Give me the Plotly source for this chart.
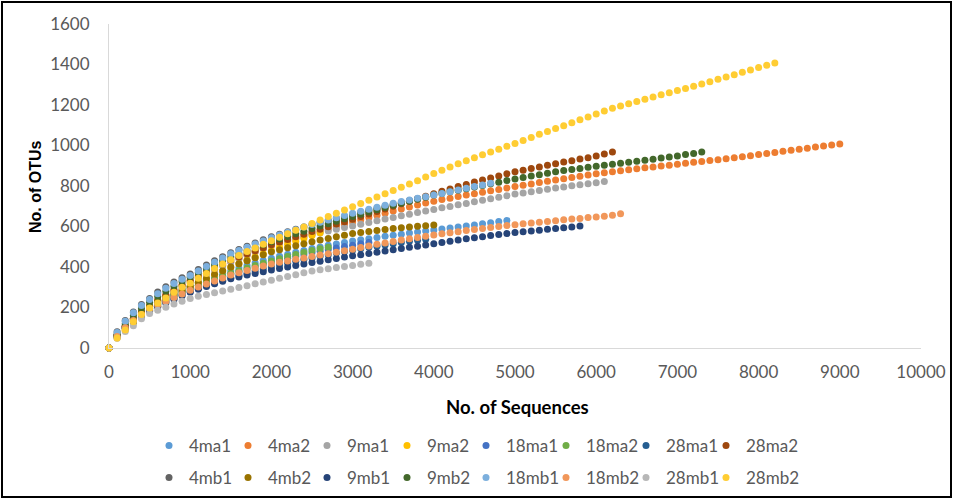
import plotly.graph_objects as go

# sampling depth step of the rarefaction curves (No. of Sequences)
seq_step = 100

series_names = ["4ma1", "4ma2", "9ma1", "9ma2", "18ma1", "18ma2", "28ma1", "28ma2",
                "4mb1", "4mb2", "9mb1", "9mb2", "18mb1", "18mb2", "28mb1", "28mb2"]
series_colors = ["#5B9BD5", "#ED7D31", "#A5A5A5", "#FFC000", "#4472C4", "#70AD47", "#255E91", "#9E480E",
                 "#636363", "#997300", "#264478", "#43682B", "#7CAFDD", "#F1975A", "#B7B7B7", "#FFCD33"]

otus_4ma1 = [0, 62, 108, 145, 177, 205, 228, 250, 270, 288, 305, 322, 338, 353, 368, 382, 395, 408, 420, 432,
             443, 453, 463, 473, 482, 491, 499, 507, 514, 521, 528, 534, 540, 546, 552, 557, 562, 568, 573, 578,
             583, 588, 593, 598, 603, 608, 614, 619, 625, 630]
otus_4ma2 = [0, 60, 107, 145, 178, 208, 236, 262, 286, 309, 330, 350, 369, 388, 407, 425, 442, 458, 474, 490,
             505, 517, 529, 541, 553, 565, 577, 588, 600, 611, 622, 633, 644, 655, 666, 676, 686, 696, 706, 716,
             725, 733, 740, 748, 755, 762, 769, 776, 783, 790, 797, 804, 810, 817, 823, 830, 836, 842, 848, 854,
             860, 865, 870, 875, 880, 885, 890, 894, 899, 903, 908, 912, 917, 921, 926, 930, 935, 940, 945, 950,
             955, 960, 966, 971, 977, 982, 987, 993, 998, 1003, 1008]
otus_9ma1 = [0, 58, 102, 140, 172, 200, 228, 254, 279, 302, 325, 346, 366, 386, 406, 425, 442, 459, 476, 493,
             510, 520, 530, 540, 550, 560, 569, 578, 586, 595, 603, 611, 620, 628, 637, 645, 653, 661, 669, 676,
             684, 692, 699, 707, 714, 722, 730, 737, 745, 752, 760, 766, 772, 778, 784, 790, 795, 801, 806, 811,
             816, 822]
otus_9ma2 = [0, 50, 88, 122, 152, 180, 205, 230, 255, 278, 300, 320, 340, 360, 380, 398, 416, 433, 450, 466,
             482, 497, 512, 527, 541, 555, 569]
otus_18ma1 = [0, 58, 102, 138, 168, 195, 218, 240, 259, 277, 294, 310, 325, 339, 353, 366, 378, 390, 401, 412,
              423, 433, 443, 452, 461, 470, 478, 486, 494, 501, 508, 515, 521]
otus_18ma2 = [0, 57, 100, 136, 166, 193, 216, 238, 258, 276, 293, 310, 326, 341, 355, 369, 382, 395, 407, 419,
              430, 441, 452, 462, 472, 481, 490, 498]
otus_28ma1 = [0, 55, 97, 131, 160, 185, 207, 227, 246, 263, 279, 294, 308, 321, 334, 346, 358, 369, 380, 390,
              400, 410, 419, 428, 437, 445, 453, 461, 469, 476, 483, 490, 497, 503, 509, 515, 521, 527, 532, 537]
otus_28ma2 = [0, 60, 106, 144, 177, 206, 234, 260, 287, 311, 335, 356, 376, 396, 416, 435, 450, 465, 480, 495,
              510, 523, 536, 549, 562, 575, 587, 599, 612, 624, 636, 649, 662, 674, 687, 700, 712, 725, 737, 750,
              762, 774, 785, 797, 808, 820, 830, 840, 850, 860, 870, 878, 886, 894, 902, 910, 918, 925, 933, 940,
              948, 958, 968]
otus_4mb1 = [0, 80, 136, 178, 215, 245, 276, 302, 326, 347, 366, 388, 410, 431, 451, 470, 487, 503, 519, 535,
             550, 562, 574, 586, 598, 610, 620, 630, 640, 650, 660, 670, 680, 690, 700, 710, 719, 728, 737]
otus_4mb2 = [0, 62, 108, 146, 178, 207, 228, 249, 269, 287, 305, 325, 345, 364, 382, 400, 416, 431, 446, 461,
             475, 485, 495, 505, 515, 525, 533, 541, 549, 557, 565, 570, 575, 580, 585, 590, 594, 597, 601, 604,
             608]
otus_9mb1 = [0, 55, 96, 130, 158, 183, 203, 222, 240, 258, 275, 290, 304, 317, 330, 342, 351, 360, 368, 377,
             385, 393, 400, 408, 415, 422, 429, 436, 442, 449, 455, 461, 467, 473, 479, 485, 491, 497, 503, 509,
             515, 521, 527, 533, 539, 545, 550, 555, 560, 565, 570, 574, 578, 582, 586, 590, 594, 598, 602]
otus_9mb2 = [0, 68, 120, 160, 195, 226, 254, 280, 305, 328, 350, 371, 392, 412, 431, 450, 465, 480, 495, 510,
             525, 538, 551, 564, 577, 590, 602, 614, 626, 638, 650, 661, 672, 683, 694, 705, 715, 725, 735, 745,
             755, 763, 771, 779, 787, 795, 803, 811, 819, 827, 835, 842, 849, 856, 863, 870, 876, 881, 887, 892,
             898, 902, 907, 912, 917, 922, 927, 932, 938, 943, 948, 955, 961, 968]
otus_18mb1 = [0, 76, 132, 174, 210, 240, 268, 295, 318, 339, 358, 380, 402, 424, 445, 465, 481, 497, 513, 529,
              545, 558, 571, 584, 597, 610, 621, 632, 643, 654, 665, 675, 685, 695, 705, 715, 723, 731, 739, 747,
              755, 763, 772, 780, 789, 797, 805, 813]
otus_18mb2 = [0, 57, 100, 136, 166, 193, 212, 230, 249, 267, 285, 301, 316, 331, 346, 360, 372, 383, 394, 405,
              415, 423, 430, 438, 445, 452, 459, 466, 473, 480, 488, 496, 504, 512, 519, 526, 533, 540, 546, 552,
              558, 564, 569, 574, 580, 585, 590, 595, 600, 605, 609, 613, 617, 621, 625, 629, 633, 637, 640, 644,
              647, 651, 656, 663]
otus_28mb1 = [0, 48, 82, 110, 145, 170, 187, 201, 217, 231, 245, 255, 264, 273, 282, 290, 299, 308, 317, 326,
              335, 344, 353, 362, 371, 380, 386, 391, 397, 402, 408, 413, 418]
otus_28mb2 = [0, 49, 89, 130, 165, 197, 222, 247, 275, 300, 320, 345, 368, 392, 415, 436, 457, 476, 494, 512,
              530, 547, 564, 581, 598, 615, 632, 649, 666, 682, 698, 714, 730, 746, 762, 778, 794, 810, 826, 844,
              862, 878, 894, 910, 925, 940, 954, 968, 982, 996, 1010, 1025, 1040, 1055, 1069, 1084, 1098, 1112,
              1127, 1141, 1155, 1170, 1184, 1195, 1206, 1217, 1228, 1239, 1250, 1261, 1272, 1282, 1293, 1304,
              1315, 1327, 1338, 1350, 1362, 1373, 1385, 1396, 1408]

series_values = [otus_4ma1, otus_4ma2, otus_9ma1, otus_9ma2, otus_18ma1, otus_18ma2, otus_28ma1, otus_28ma2,
                 otus_4mb1, otus_4mb2, otus_9mb1, otus_9mb2, otus_18mb1, otus_18mb2, otus_28mb1, otus_28mb2]

x_ticks = [0, 1000, 2000, 3000, 4000, 5000, 6000, 7000, 8000, 9000, 10000]
y_ticks = [0, 200, 400, 600, 800, 1000, 1200, 1400, 1600]

TICK_FONT = dict(family="Lato, Open Sans, sans-serif", size=17, color="#595959")

# plot area in pixels: x 109..921, y 24..348
L, R, T, B = 109, 33, 24, 152
PW, PH = 954 - L - R, 500 - T - B

def px(xp):
    return (xp - L) / PW

def py(yp):
    return (500 - B - yp) / PH

# legend grid: 8 columns x 2 rows (text start pixels of the reference legend)
legend_text_x = [187, 266, 345, 425, 504, 584, 664, 744]
legend_row_y = [446, 478]

fig = go.Figure()
layout_legends = {}
for i, (name, color, vals) in enumerate(zip(series_names, series_colors, series_values)):
    depths = [k * seq_step for k in range(len(vals))]
    key = "legend" if i == 0 else "legend%d" % (i + 1)
    fig.add_trace(go.Scatter(
        x=depths, y=vals, name=name, mode="markers",
        marker=dict(color=color, size=7, line=dict(width=0)),
        cliponaxis=False,
        legend=key,
    ))
    col, row = i % 8, i // 8
    layout_legends[key] = dict(
        orientation="h", xanchor="left", yanchor="middle", xref="paper", yref="paper",
        x=px(legend_text_x[col] + 2 - 40), y=py(legend_row_y[row]),
        font=dict(family="Lato, Open Sans, sans-serif", size=17, color="#595959"),
        bgcolor="rgba(0,0,0,0)", borderwidth=0, itemsizing="trace",
    )

fig.update_layout(
    width=954, height=500,
    margin=dict(l=L, r=R, t=T, b=B, autoexpand=False),
    paper_bgcolor="white", plot_bgcolor="white",
    showlegend=True,
    xaxis=dict(range=[0, 10000], tickvals=x_ticks, ticktext=[str(v) for v in x_ticks],
               showgrid=False, zeroline=False, showline=True, linecolor="#D9D9D9", linewidth=1,
               ticks="", tickfont=TICK_FONT, ticklabelstandoff=9, automargin=False),
    yaxis=dict(range=[0, 1600], tickvals=y_ticks, ticktext=[str(v) for v in y_ticks],
               showgrid=False, zeroline=False, showline=True, linecolor="#D9D9D9", linewidth=1,
               ticks="", tickfont=TICK_FONT, ticklabelstandoff=15, automargin=False),
    annotations=[
        dict(text="<b>No. of Sequences</b>", x=px(517), y=py(407), xref="paper", yref="paper",
             showarrow=False, xanchor="center", yanchor="middle",
             font=dict(family="Lato, sans-serif", size=18.5, color="#000000")),
        dict(text="<b>No. of OTUs</b>", x=px(35), y=py(187), xref="paper", yref="paper",
             showarrow=False, xanchor="center", yanchor="middle", textangle=-90,
             font=dict(family="Liberation Sans, Arial, sans-serif", size=16, color="#000000")),
    ],
    shapes=[
        dict(type="rect", xref="paper", yref="paper",
             x0=px(2), x1=px(951), y0=py(497), y1=py(2),
             line=dict(color="#000000", width=2), fillcolor="rgba(0,0,0,0)", layer="above"),
    ],
    **layout_legends,
)

fig.write_html("out.html", config={"displayModeBar": False})
